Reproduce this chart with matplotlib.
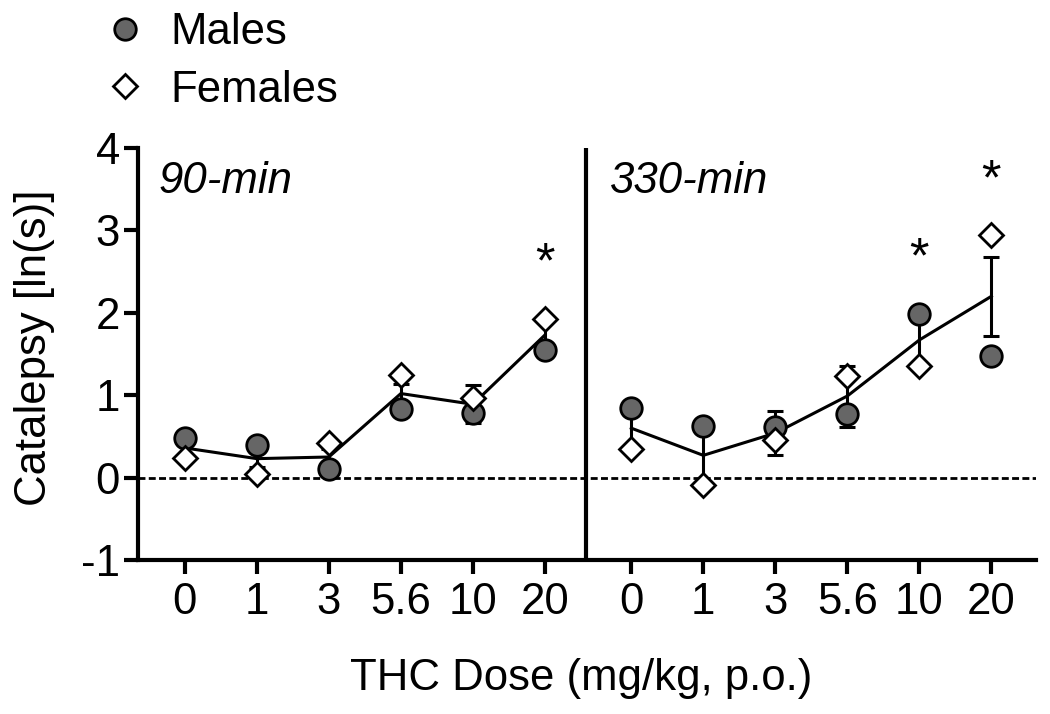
import matplotlib
matplotlib.use("Agg")
import matplotlib.pyplot as plt

plt.rcParams["font.family"] = ["Liberation Sans", "DejaVu Sans"]
plt.rcParams["axes.unicode_minus"] = False

# Dados (catalepsia, ln(s))
DOSE_LABELS = ["0", "1", "3", "5.6", "10", "20"]
TIMEPOINTS = ["90-min", "330-min"]

MALES_90 = [0.48, 0.40, 0.11, 0.83, 0.79, 1.55]
FEMALES_90 = [0.24, 0.04, 0.42, 1.24, 0.97, 1.93]
MEAN_90 = [0.36, 0.23, 0.25, 1.02, 0.89, 1.73]
SEM_90 = [0.08, 0.10, 0.10, 0.12, 0.23, 0.15]

MALES_330 = [0.85, 0.63, 0.62, 0.77, 1.99, 1.47]
FEMALES_330 = [0.35, -0.09, 0.46, 1.23, 1.35, 2.94]
MEAN_330 = [0.60, 0.27, 0.54, 0.99, 1.67, 2.20]
SEM_330 = [0.25, 0.35, 0.27, 0.37, 0.32, 0.48]

# (painel, índice da dose) com diferença significativa
SIGNIFICANT = [(0, 5), (1, 4), (1, 5)]

PANELS = [
    (MALES_90, FEMALES_90, MEAN_90, SEM_90),
    (MALES_330, FEMALES_330, MEAN_330, SEM_330),
]

# Layout
PANEL_OFFSET = [0.0, 6.2]
LABEL_X = [-0.37, 5.9]
SEPARATOR_X = 5.57
FS = 31.5
MALE_COLOR = "#666666"


fig = plt.figure(figsize=(10.5, 7.14), dpi=100)
ax = fig.add_axes([138 / 1050, 1 - 560 / 714, 898 / 1050, 412 / 714])

handles = []
xticks = []

for p, (males, females, mean, sem) in enumerate(PANELS):
    xs = [PANEL_OFFSET[p] + i for i in range(len(DOSE_LABELS))]
    xticks += xs

    ax.errorbar(xs, mean, yerr=sem, color="black", lw=2.2,
                capsize=6, capthick=2.2, zorder=2)
    hm, = ax.plot(xs, males, "o", ms=15.5, mfc=MALE_COLOR, mec="black",
                  mew=2, zorder=3, label="Males")
    hf, = ax.plot(xs, females, "D", ms=12.5, mfc="white", mec="black",
                  mew=2, zorder=4, label="Females")
    if p == 0:
        handles = [hm, hf]

    ax.text(LABEL_X[p], 3.45, TIMEPOINTS[p], fontsize=FS, style="italic",
            ha="left", va="baseline")

for p, i in SIGNIFICANT:
    males, females, mean, sem = PANELS[p]
    top = max(males[i], females[i], mean[i] + sem[i])
    ax.text(PANEL_OFFSET[p] + i, top + 0.5, "*", fontsize=36,
            ha="center", va="baseline")

ax.axhline(0, color="black", lw=2, ls=(0, (2.5, 1.2)), zorder=1)
ax.axvline(SEPARATOR_X, color="black", lw=3)

ax.set_xlim(-0.65, 11.82)
ax.set_ylim(-1, 4)
ax.set_yticks(range(-1, 5))
ax.set_xticks(xticks)
ax.set_xticklabels(DOSE_LABELS * 2)

for side in ["top", "right"]:
    ax.spines[side].set_visible(False)
for side in ["left", "bottom"]:
    ax.spines[side].set_linewidth(3)

ax.tick_params(direction="out", length=10, width=3, labelsize=FS)
ax.tick_params(axis="y", pad=3)
ax.tick_params(axis="x", pad=6)

fig.text(35 / 1050, 1 - 348 / 714, "Catalepsy [ln(s)]", rotation=90,
         ha="center", va="center", fontsize=FS)
fig.text(581 / 1050, 1 - 690 / 714, "THC Dose (mg/kg, p.o.)",
         ha="center", va="baseline", fontsize=FS)

fig.legend(handles=handles, labels=["Males", "Females"], loc="upper left",
           bbox_to_anchor=(103 / 1050, 1 - 12 / 714), frameon=False,
           fontsize=FS, numpoints=1, handlelength=1.0, handletextpad=0.55,
           labelspacing=0.38, borderpad=0, borderaxespad=0)

plt.savefig("out.png")
plt.close()
